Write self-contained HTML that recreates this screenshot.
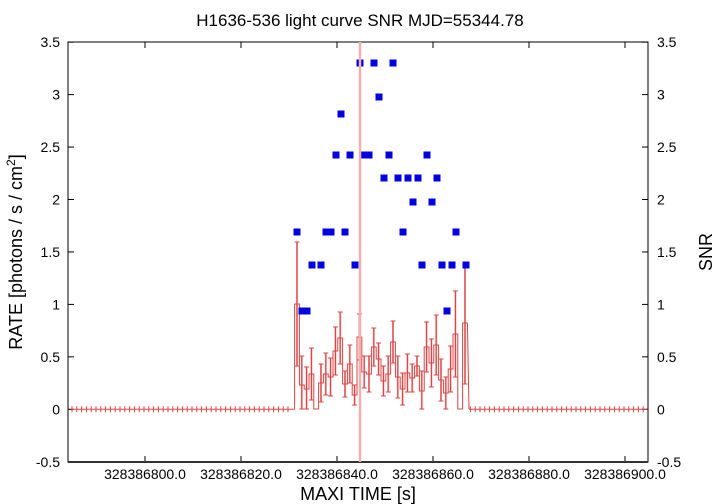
<!DOCTYPE html>
<html><head><style>body{margin:0;background:#fff}svg{display:block;font-family:"Liberation Sans",sans-serif}</style></head>
<body>
<svg id="s" width="720" height="504" xmlns="http://www.w3.org/2000/svg">
<rect width="720" height="504" fill="#fff"/>
<text x="360" y="26" font-size="17" text-anchor="middle">H1636-536 light curve  SNR MJD=55344.78</text>
<g id="g"></g>
<rect x="68" y="42" width="580" height="420" fill="none" stroke="#000" stroke-width="1"/>
<line x1="68" y1="462" x2="648" y2="462" stroke="#333" stroke-width="2"/>
<line x1="360" y1="42" x2="360" y2="462" stroke="#f0b0b0" stroke-width="2.5"/>
<text transform="translate(22,252) rotate(-90)" font-size="18" text-anchor="middle">RATE [photons / s / cm<tspan dy="-7" font-size="12">2</tspan><tspan dy="7">]</tspan></text>
<text transform="translate(712,252) rotate(-90)" font-size="18" text-anchor="middle">SNR</text>
<text x="358" y="500" font-size="18" text-anchor="middle">MAXI TIME [s]</text>
</svg>
<script>
const g=document.getElementById('g');let h='';
const Y=v=>409.3-104.9*v;
for(let i=0;i<9;i++){const v=-0.5+0.5*i,y=Y(v),t=(v===0?'0':v.toString());
h+=`<line x1="68" y1="${y}" x2="74" y2="${y}" stroke="#000"/><line x1="642" y1="${y}" x2="648" y2="${y}" stroke="#000"/>`;
h+=`<text x="60" y="${y+5}" font-size="14" text-anchor="end">${t}</text><text x="657" y="${y+5}" font-size="14">${t}</text>`;}
for(let k=0;k<6;k++){const x=145+96*k;
if(x>68){h+=`<line x1="${x}" y1="462" x2="${x}" y2="456" stroke="#000"/><line x1="${x}" y1="42" x2="${x}" y2="48" stroke="#000"/>`;}
h+=`<text x="${x}" y="479" font-size="14" text-anchor="middle">${(328386800+20*k).toFixed(1)}</text>`;}
for(let x=72;x<=648;x+=4.8){if(x>292&&x<470)continue;h+=`<line x1="${x}" y1="${Y(0)-3}" x2="${x}" y2="${Y(0)+3}" stroke="#d44"/>`;}
h+=`<line x1="72" y1="${Y(0)}" x2="294.6" y2="${Y(0)}" stroke="#d44"/><line x1="469" y1="${Y(0)}" x2="648" y2="${Y(0)}" stroke="#d44"/>`;
const ys=[304,385,389,374,409,383,374,377,351,338,384,364,395,337,372,374,347,359,381,374,342,377,389,373,378,366,391,347,363,345,380,393,369,334,409,323];
const ups=[242,356,367,348,409,364,353,358,327,312,371,345,385,314,356,356,328,343,366,356,321,356,373,354,364,356,371,322,339,315,359,377,346,291,409,262];
let path=`M294.6,${Y(0)}`;
ys.forEach((y,i)=>{const x=297+i*4.8,l=x-2.4,r=x+2.4;
const up=ups[i],dn=Math.min(409,y+(y-up));
h+=`<line x1="${x}" y1="${up}" x2="${x}" y2="${dn}" stroke="#f0a0a0" stroke-width="2"/>`;
h+=`<line x1="${x}" y1="${up}" x2="${x}" y2="${dn}" stroke="#c33" stroke-width="0.8"/>`;
h+=`<line x1="${x-2.5}" y1="${up}" x2="${x+2.5}" y2="${up}" stroke="#d44"/><line x1="${x-2.5}" y1="${dn}" x2="${x+2.5}" y2="${dn}" stroke="#d44"/>`;
path+=`L${l},${y}L${r},${y}`;});
path+=`L469,${Y(0)}`;
h+=`<path d="${path}" fill="none" stroke="#d44" stroke-width="1"/>`;
const b=[[297,232],[302,311],[307,311],[312,265],[321,265],[326,232],[331,232],[336,155],[341,114],[345,232],[350,155],[355,265],[360,63],[364,155],[369,155],[374,63],[379,97],[384,178],[389,155],[393,63],[398,178],[403,232],[408,178],[413,202],[418,178],[422,265],[427,155],[432,202],[437,178],[442,265],[447,311],[452,265],[456,232],[466,265]];
b.forEach(([x,y])=>h+=`<rect x="${x-3.5}" y="${y-3.5}" width="7" height="7" fill="#0000e0"/>`);
g.innerHTML=h;
</script>
</body></html>
